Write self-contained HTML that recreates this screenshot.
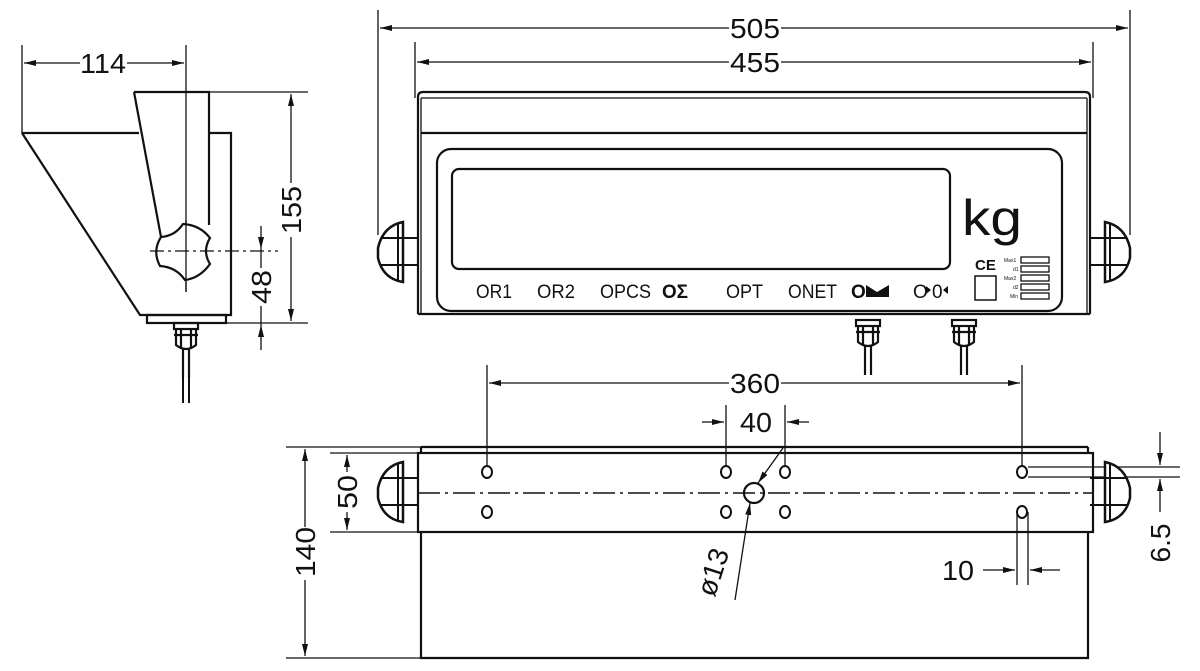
<!DOCTYPE html>
<html><head><meta charset="utf-8"><style>
html,body{margin:0;padding:0;background:#fff;}
svg{display:block;}
text{font-family:"Liberation Sans",sans-serif;fill:#111;}
</style></head><body>
<svg width="1200" height="671" viewBox="0 0 1200 671" xmlns="http://www.w3.org/2000/svg">
<defs>
<marker id="a" viewBox="0 0 12 6" refX="12" refY="3" markerWidth="12" markerHeight="6" orient="auto-start-reverse" markerUnits="userSpaceOnUse"><path d="M0,0 L12,3 L0,6 Z" fill="#111"/></marker>
<g id="knobL">
<path d="M403,222 Q383,226 378,248 L378,258 Q383,279 403,282 Z" fill="#fff" stroke="#111" stroke-width="2.5"/>
<line x1="381" y1="238" x2="418" y2="238" stroke="#111" stroke-width="2"/>
<line x1="381" y1="265" x2="418" y2="265" stroke="#111" stroke-width="2"/>
<line x1="398" y1="224" x2="398" y2="280" stroke="#111" stroke-width="2"/>
</g>
<g id="gland" fill="none" stroke="#111" stroke-width="2.2">
<rect x="0" y="0" width="24" height="6"/>
<path d="M2,6 L2,22 Q12,30 22,22 L22,6"/>
<line x1="0" y1="12" x2="24" y2="12"/>
<line x1="7" y1="6" x2="7" y2="26"/><line x1="17" y1="6" x2="17" y2="26"/>
<line x1="9" y1="26" x2="9" y2="55"/><line x1="15" y1="26" x2="15" y2="55"/>
</g>
</defs>
<g stroke="#111" fill="none" stroke-width="1.3">
<line x1="22" y1="45" x2="22" y2="133"/>
<line x1="186" y1="45" x2="186" y2="292"/>
<line x1="24" y1="63" x2="80" y2="63" marker-start="url(#a)"/>
<line x1="127" y1="63" x2="184" y2="63" marker-end="url(#a)"/>
</g>
<text x="103" y="73" font-size="28" text-anchor="middle" textLength="46" lengthAdjust="spacingAndGlyphs">114</text>
<g stroke="#111" fill="none" stroke-width="2.2">
<path d="M22,133 L139,133"/>
<path d="M22,133 L140,315 L231,315 L231,133 L209,133"/>
<path d="M134,92 L209,92 L209,225"/>
<path d="M134,92 L161,237"/>
<rect x="147" y="315" width="79" height="8"/>
<path d="M161,237 Q175,236 183,224 Q200,225 210,238 Q202,251 210,264 Q200,278 185,280 Q176,267 160,266 Q152,251 161,237 Z" fill="#fff"/>
</g>
<g stroke="#111" fill="none" stroke-width="1.3">
<line x1="150" y1="251" x2="278" y2="251" stroke-dasharray="14,4,3,4"/>
<line x1="186" y1="220" x2="186" y2="292"/>
<line x1="209" y1="92" x2="308" y2="92"/>
<line x1="226" y1="323" x2="308" y2="323"/>
<line x1="291" y1="94" x2="291" y2="183" marker-start="url(#a)"/>
<line x1="291" y1="237" x2="291" y2="321" marker-end="url(#a)"/>
<line x1="261" y1="226" x2="261" y2="249" marker-end="url(#a)"/>
<line x1="261" y1="325" x2="261" y2="350" marker-start="url(#a)"/>
<line x1="261" y1="249" x2="261" y2="268"/><line x1="261" y1="306" x2="261" y2="325"/>
</g>
<text transform="translate(301,210) rotate(-90)" font-size="28" text-anchor="middle" textLength="48" lengthAdjust="spacingAndGlyphs">155</text>
<text transform="translate(271,287) rotate(-90)" font-size="28" text-anchor="middle" textLength="34" lengthAdjust="spacingAndGlyphs">48</text>
<use href="#gland" x="174" y="323"/>
<g stroke="#111" stroke-width="2"><line x1="183" y1="378" x2="183" y2="403"/><line x1="189" y1="378" x2="189" y2="403"/></g>

<g stroke="#111" fill="none" stroke-width="1.3">
<line x1="378" y1="10" x2="378" y2="235"/>
<line x1="1130" y1="10" x2="1130" y2="235"/>
<line x1="380" y1="28" x2="729" y2="28" marker-start="url(#a)"/>
<line x1="781" y1="28" x2="1128" y2="28" marker-end="url(#a)"/>
<line x1="415" y1="42" x2="415" y2="98"/>
<line x1="1093" y1="42" x2="1093" y2="98"/>
<line x1="417" y1="62" x2="729" y2="62" marker-start="url(#a)"/>
<line x1="781" y1="62" x2="1091" y2="62" marker-end="url(#a)"/>
</g>
<text x="755" y="38" font-size="28" text-anchor="middle" textLength="50" lengthAdjust="spacingAndGlyphs">505</text>
<text x="755" y="72" font-size="28" text-anchor="middle" textLength="50" lengthAdjust="spacingAndGlyphs">455</text>
<g stroke="#111" fill="none" stroke-width="2.2">
<path d="M418,314 L418,97 Q418,92 423,92 L1085,92 Q1090,92 1090,97 L1090,314"/>
<line x1="421" y1="98" x2="1087" y2="98" stroke-width="1.3"/>
<line x1="421" y1="98" x2="421" y2="314" stroke-width="1.3"/>
<line x1="1087" y1="98" x2="1087" y2="314" stroke-width="1.3"/>
<line x1="421" y1="133" x2="1087" y2="133"/>
<line x1="418" y1="314" x2="1090" y2="314"/>
<rect x="437" y="149" width="625" height="162" rx="14"/>
<rect x="452" y="169" width="498" height="100" rx="7"/>
<rect x="975" y="276" width="21" height="24" stroke-width="1.5"/>
</g>
<use href="#knobL"/>
<use href="#knobL" transform="translate(1508,0) scale(-1,1)"/>
<text x="962" y="235" font-size="50" textLength="60" lengthAdjust="spacingAndGlyphs">kg</text>
<text x="975" y="270" font-size="15" font-weight="bold">CE</text>
<g stroke="#111" fill="none" stroke-width="1.3">
<rect x="1021" y="257" width="28" height="6"/><rect x="1021" y="266" width="28" height="6"/>
<rect x="1021" y="275" width="28" height="6"/><rect x="1021" y="284" width="28" height="6"/>
<rect x="1021" y="293" width="28" height="6"/>
</g>
<g font-size="5" font-family="Liberation Serif,serif"><text x="1004" y="262">Max1</text><text x="1013" y="271">d1</text><text x="1004" y="280">Max2</text><text x="1013" y="289">d2</text><text x="1010" y="298">Min</text></g>
<g font-size="19">
<text x="476" y="298" textLength="36" lengthAdjust="spacingAndGlyphs">OR1</text>
<text x="537" y="298" textLength="38" lengthAdjust="spacingAndGlyphs">OR2</text>
<text x="600" y="298" textLength="51" lengthAdjust="spacingAndGlyphs">OPCS</text>
<text x="662" y="298" font-weight="bold" textLength="26" lengthAdjust="spacingAndGlyphs">OΣ</text>
<text x="726" y="298" textLength="37" lengthAdjust="spacingAndGlyphs">OPT</text>
<text x="788" y="298" textLength="49" lengthAdjust="spacingAndGlyphs">ONET</text>
<text x="851" y="298" font-weight="bold">O</text>
<text x="913" y="298">O</text>
</g>
<path d="M866,285 L877,292 L889,285 L889,297 L866,297 Z" fill="#111"/>
<path d="M926,286 L931,290 L926,294 Z" fill="#111"/>
<text x="932" y="298" font-size="19">0</text>
<path d="M948,286 L943,290 L948,294 Z" fill="#111"/>
<use href="#gland" x="856" y="320"/>
<use href="#gland" x="952" y="320"/>

<g stroke="#111" fill="none" stroke-width="1.3">
<line x1="487" y1="365" x2="487" y2="466"/>
<line x1="1022" y1="365" x2="1022" y2="466"/>
<line x1="489" y1="383" x2="729" y2="383" marker-start="url(#a)"/>
<line x1="781" y1="383" x2="1020" y2="383" marker-end="url(#a)"/>
<line x1="726" y1="405" x2="726" y2="466"/>
<line x1="785" y1="405" x2="785" y2="466"/>
<line x1="702" y1="422" x2="724" y2="422" marker-end="url(#a)"/>
<line x1="809" y1="422" x2="787" y2="422" marker-end="url(#a)"/>
<line x1="286" y1="447" x2="421" y2="447"/>
<line x1="286" y1="658" x2="421" y2="658"/>
<line x1="305" y1="449" x2="305" y2="527" marker-start="url(#a)"/>
<line x1="305" y1="580" x2="305" y2="656" marker-end="url(#a)"/>
<line x1="330" y1="453" x2="418" y2="453"/>
<line x1="330" y1="532" x2="418" y2="532"/>
<line x1="347" y1="455" x2="347" y2="472" marker-start="url(#a)"/>
<line x1="347" y1="512" x2="347" y2="530" marker-end="url(#a)"/>
<line x1="1028" y1="467" x2="1180" y2="467"/>
<line x1="1028" y1="477" x2="1180" y2="477"/>
<line x1="1160" y1="432" x2="1160" y2="465" marker-end="url(#a)"/>
<line x1="1160" y1="512" x2="1160" y2="479" marker-end="url(#a)"/>
<line x1="1017" y1="512" x2="1017" y2="585"/>
<line x1="1028" y1="512" x2="1028" y2="585"/>
<line x1="983" y1="570" x2="1015" y2="570" marker-end="url(#a)"/>
<line x1="1060" y1="570" x2="1030" y2="570" marker-end="url(#a)"/>
<line x1="783" y1="448" x2="758" y2="483" marker-end="url(#a)"/>
<line x1="735" y1="600" x2="750" y2="503" marker-end="url(#a)"/>
</g>
<text x="755" y="393" font-size="28" text-anchor="middle" textLength="50" lengthAdjust="spacingAndGlyphs">360</text>
<text x="756" y="432" font-size="28" text-anchor="middle" textLength="32" lengthAdjust="spacingAndGlyphs">40</text>
<text transform="translate(315,552) rotate(-90)" font-size="28" text-anchor="middle" textLength="50" lengthAdjust="spacingAndGlyphs">140</text>
<text transform="translate(357,492) rotate(-90)" font-size="28" text-anchor="middle" textLength="34" lengthAdjust="spacingAndGlyphs">50</text>
<text transform="translate(1170,543) rotate(-90)" font-size="28" text-anchor="middle">6.5</text>
<text x="958" y="580" font-size="28" text-anchor="middle" textLength="32" lengthAdjust="spacingAndGlyphs">10</text>
<text transform="translate(722,575) rotate(-72)" font-size="28" text-anchor="middle">ø13</text>
<g stroke="#111" fill="none" stroke-width="2.2">
<line x1="421" y1="447" x2="1088" y2="447"/>
<line x1="421" y1="447" x2="421" y2="453"/><line x1="1088" y1="447" x2="1088" y2="453"/>
<rect x="418" y="453" width="675" height="79"/>
<path d="M421,532 L421,658 L1088,658 L1088,532"/>
<circle cx="754" cy="493" r="10"/>
</g>
<line x1="418" y1="493" x2="1093" y2="493" stroke="#111" stroke-width="1.5" stroke-dasharray="22,5,3,5"/>
<g stroke="#111" fill="#fff" stroke-width="2">
<ellipse cx="487" cy="472" rx="5" ry="6"/><ellipse cx="487" cy="512" rx="5" ry="6"/>
<ellipse cx="726" cy="472" rx="5" ry="6"/><ellipse cx="726" cy="512" rx="5" ry="6"/>
<ellipse cx="785" cy="472" rx="5" ry="6"/><ellipse cx="785" cy="512" rx="5" ry="6"/>
<ellipse cx="1022" cy="472" rx="5" ry="6"/><ellipse cx="1022" cy="512" rx="5" ry="6"/>
</g>
<use href="#knobL" transform="translate(0,240)"/>
<use href="#knobL" transform="translate(1508,240) scale(-1,1)"/>
</svg>
</body></html>
